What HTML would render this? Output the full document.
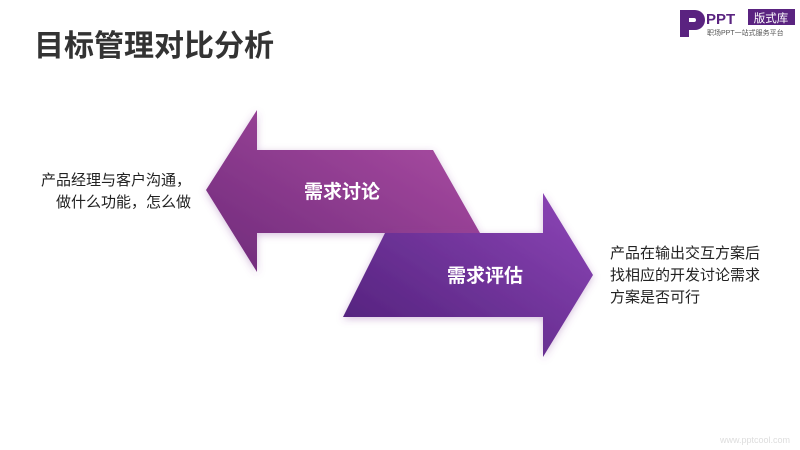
<!DOCTYPE html>
<html><head><meta charset="utf-8"><style>
body{margin:0;width:800px;height:450px;background:#fff;position:relative;overflow:hidden;font-family:"Liberation Sans","Noto Sans CJK SC",sans-serif}
.t{position:absolute;color:#222;font-size:15px;line-height:22px}
</style></head><body>
<div style="position:absolute;left:34px;top:21px;font-size:30px;font-weight:bold;color:#333">目标管理对比分析</div>
<svg width="800" height="450" style="position:absolute;left:0;top:0">
<defs>
<linearGradient id="g1" x1="0" y1="1" x2="1" y2="0"><stop offset="0" stop-color="#6e2a7a"/><stop offset="1" stop-color="#b04fa6"/></linearGradient>
<linearGradient id="g2" x1="0" y1="1" x2="1" y2="0"><stop offset="0" stop-color="#4e1f78"/><stop offset="1" stop-color="#8e46b8"/></linearGradient>
<filter id="s" x="-20%" y="-20%" width="140%" height="140%"><feDropShadow dx="0" dy="2" stdDeviation="4" flood-color="#8a4aa0" flood-opacity="0.35"/></filter>
</defs>
<polygon filter="url(#s)" fill="url(#g1)" points="206,190 257,110 257,150 433,150 480,233 257,233 257,272"/>
<polygon filter="url(#s)" fill="url(#g2)" points="385,233 543,233 543,193 593,275 543,357 543,317 343,317"/>
<text x="342" y="198" fill="#fff" font-size="19" font-weight="bold" text-anchor="middle" font-family="Liberation Sans,Noto Sans CJK SC,sans-serif">需求讨论</text>
<text x="485" y="282" fill="#fff" font-size="19" font-weight="bold" text-anchor="middle" font-family="Liberation Sans,Noto Sans CJK SC,sans-serif">需求评估</text>
<path d="M680 10 h15 a10 10 0 0 1 0 20 h-6 v7 h-9 z M689 18 v4 h5 a2 2 0 0 0 0 -4z" fill="#5a2380" fill-rule="evenodd"/>
<text x="706" y="24" fill="#5a2380" font-size="15" font-weight="bold" font-family="Liberation Sans,sans-serif">PPT</text>
<rect x="748" y="9" width="47" height="16" fill="#5a2380"/>
<text x="771" y="22" fill="#fff" font-size="11.5" text-anchor="middle" font-family="Liberation Sans,Noto Sans CJK SC,sans-serif">版式库</text>
<text x="707" y="35" fill="#555" font-size="7" font-family="Liberation Sans,Noto Sans CJK SC,sans-serif">职场PPT一站式服务平台</text>
<text x="790" y="443" fill="#ddd" font-size="9" text-anchor="end" font-family="Liberation Sans,sans-serif">www.pptcool.com</text>
</svg>
<div class="t" style="right:609px;top:170px;text-align:right">产品经理与客户沟通，<br>做什么功能，怎么做</div>
<div class="t" style="left:610px;top:243px">产品在输出交互方案后<br>找相应的开发讨论需求<br>方案是否可行</div>
</body></html>
